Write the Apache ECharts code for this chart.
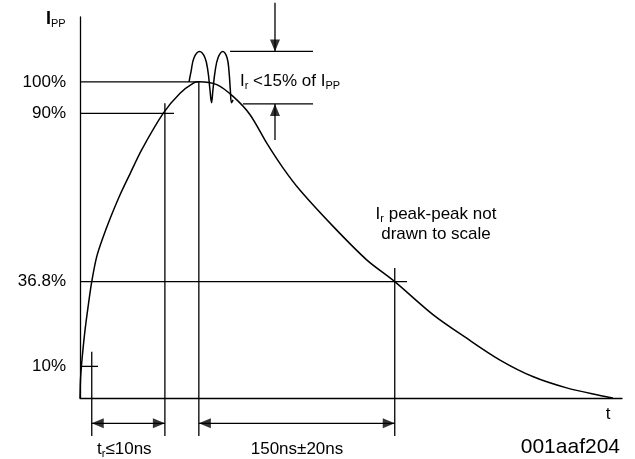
<!DOCTYPE html>
<html>
<head>
<meta charset="utf-8">
<script src="https://cdn.jsdelivr.net/npm/echarts@6/dist/echarts.min.js"></script>
<style>
  html, body { margin: 0; padding: 0; background: #fff; }
  #chart { width: 635px; height: 459px; }
</style>
</head>
<body>
<div id="chart"></div>
<script>
// ESD test pulse (not to scale): t in ns, current in % of Ipp
const levels = [10, 36.8, 90, 100]
const levelLineEnd = [13.8, 250.4, 72, 91]   // t where each level line stops
const markTimes = [9, 65, 91, 241]           // t at 10 %, 90 %, peak, 36.8 %
const markTops = [14.6, 93.2, 100, 41.1]     // % where each time marker starts
const markBottom = -12
const dimLevel = -8

const pulseT = [0, 0.4, 1.15, 3.6, 6.2, 9.0, 12.8, 17.8, 23.0, 30.6, 38.3, 47.2, 63.8, 76.6, 86.8, 91,
  104.7, 117.4, 130.2, 143.0, 155.4, 168.5, 194.0, 219.5, 241, 270.5, 296.1, 321.6, 347.1, 372.6, 398.2, 408]
const pulseI = [0, 6, 10.4, 20.6, 28.9, 36.8, 44.7, 51.0, 56.7, 64.2, 70.9, 78.5, 90.1, 96.4, 99.6, 100,
  99.1, 95.3, 89.6, 80.6, 72.8, 65.7, 54.2, 43.7, 36.8, 26.3, 18.9, 12.0, 6.7, 3.2, 0.8, 0]

const ringT = [83.5, 85.0, 87.3, 91.5, 95.7, 98.0, 99.5, 100.7, 101.8, 103.4, 105.7, 109.3, 112.6, 114.1, 115.1, 116.0, 117.2]
const ringI = [100, 103.2, 107.6, 109.6, 107.6, 103.2, 97.5, 93.4, 97.5, 103.2, 107.6, 109.6, 107.6, 103.2, 97.5, 93.4, 94.3]

const ringBand = [93, 109.6]        // trough / crest of the ringing
const ringBandStart = [124.8, 114.9]
const ringBandEnd = 178.4
const ringArrowT = 149.3
const ringArrowEnds = [81.6, 125]

const font = '"Liberation Sans", Arial, sans-serif'
const black = '#000'

const zip = (xs, ys) => xs.map((x, i) => [x, ys[i]])

function seg (points) {
  return {
    type: 'line', data: points, symbol: 'none', clip: false, silent: true,
    lineStyle: { color: black, width: 1.3 }, z: 3
  }
}

function head (t, v, dir) {
  const rot = { left: 90, right: -90, up: 0, down: 180 }[dir]
  const off = { left: [6, 0], right: [-6, 0], up: [0, 6], down: [0, -6] }[dir]
  return { value: [t, v], symbolRotate: rot, symbolOffset: off }
}

const series = [
  {
    type: 'line', data: zip(pulseT, pulseI), symbol: 'none', smooth: 0.3,
    lineStyle: { color: black, width: 1.5 }, z: 4
  },
  {
    type: 'line', data: zip(ringT, ringI), symbol: 'none', smooth: 0.4,
    lineStyle: { color: black, width: 1.5 }, z: 4
  }
]

levels.forEach((v, i) => series.push(seg([[0, v], [levelLineEnd[i], v]])))
markTimes.forEach((t, i) => series.push(seg([[t, markTops[i]], [t, markBottom]])))
series.push(seg([[markTimes[0], dimLevel], [markTimes[1], dimLevel]]))
series.push(seg([[markTimes[2], dimLevel], [markTimes[3], dimLevel]]))
ringBand.forEach((v, i) => series.push(seg([[ringBandStart[i], v], [ringBandEnd, v]])))
series.push(seg([[ringArrowT, ringArrowEnds[1]], [ringArrowT, ringBand[1]]]))
series.push(seg([[ringArrowT, ringArrowEnds[0]], [ringArrowT, ringBand[0]]]))

series.push({
  type: 'scatter', symbol: 'triangle', symbolSize: [10, 12], clip: false, silent: true,
  itemStyle: { color: black }, z: 5,
  data: [
    head(markTimes[0], dimLevel, 'left'),
    head(markTimes[1], dimLevel, 'right'),
    head(markTimes[2], dimLevel, 'left'),
    head(markTimes[3], dimLevel, 'right'),
    head(ringArrowT, ringBand[1], 'down'),
    head(ringArrowT, ringBand[0], 'up')
  ]
})

const rich = {
  m: { fontSize: 17, lineHeight: 20, fontFamily: font, fill: black },
  b: { fontSize: 18, lineHeight: 20, fontWeight: 'bold', fontFamily: font, fill: black },
  s: { fontSize: 11, lineHeight: 11, verticalAlign: 'bottom', fontFamily: font, fill: black }
}

function label (text, x, y, align, size) {
  return {
    type: 'text', x: x, y: y, silent: true,
    style: {
      text: text, rich: rich, fill: black, fontFamily: font, fontSize: size || 17,
      align: align || 'left', verticalAlign: 'middle'
    }
  }
}

const chart = echarts.init(document.getElementById('chart'))
chart.setOption({
  animation: false,
  backgroundColor: '#fff',
  grid: { left: 80, right: 13, top: 17, bottom: 61 },
  xAxis: {
    type: 'value', min: 0, max: 415,
    axisLine: { lineStyle: { color: black, width: 1.3 } },
    axisTick: { show: false }, axisLabel: { show: false }, splitLine: { show: false }
  },
  yAxis: {
    type: 'value', min: 0, max: 120.5,
    axisLine: { show: true, lineStyle: { color: black, width: 1.3 } },
    axisTick: { show: false }, splitLine: { show: false },
    axisLabel: {
      customValues: levels, formatter: v => v + '%',
      color: black, fontSize: 17, fontFamily: font, margin: 14
    }
  },
  series: series,
  graphic: [
    label('{b|I}{s|PP}', 46, 19),
    label('{m|I}{s|r}{m| <15% of }{m|I}{s|PP}', 240, 81),
    label('{m|I}{s|r}{m| peak-peak not}', 436, 214, 'center'),
    label('drawn to scale', 436, 234, 'center'),
    label('t', 608, 414, 'center'),
    label('{m|t}{s|r}{m|≤10ns}', 97, 449),
    label('150ns±20ns', 297, 449, 'center'),
    label('001aaf204', 620, 447, 'right', 21)
  ]
})
</script>
</body>
</html>
